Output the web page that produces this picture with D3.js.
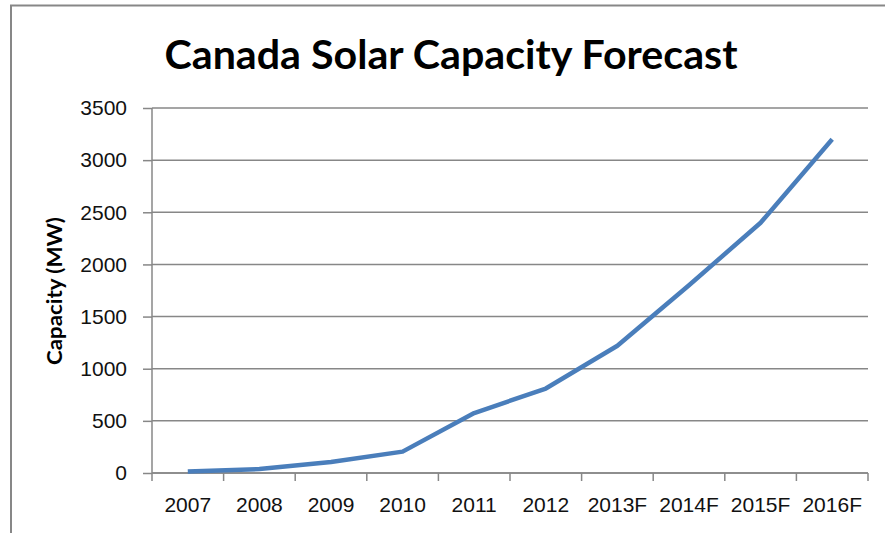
<!DOCTYPE html>
<html>
<head>
<meta charset="utf-8">
<script src="https://cdn.jsdelivr.net/npm/d3@7"></script>
<style>
  html, body { margin: 0; padding: 0; background: #fff; }
  svg { display: block; }
</style>
</head>
<body>
<svg id="chart" width="885" height="533"></svg>
<script>
// Installed solar capacity in Canada (MW), actuals and forecast years
const years = ["2007", "2008", "2009", "2010", "2011", "2012", "2013F", "2014F", "2015F", "2016F"];
const capacity = [15, 38, 105, 205, 575, 810, 1220, 1800, 2400, 3200];
const yTicks = [0, 500, 1000, 1500, 2000, 2500, 3000, 3500];

(function () {
  const svg = d3.select("#chart");
  const W = 885, H = 533;
  const plotLeft = 152, plotRight = 868, plotTop = 108, plotBottom = 473;
  const gray = "#878787";
  const tickFont = "'Liberation Sans', Arial, sans-serif";

  svg.append("rect").attr("width", W).attr("height", H).attr("fill", "#fff");

  // chart frame (left and top edges)
  svg.append("path")
    .attr("d", `M11,${H} V5.5 H${W}`)
    .attr("fill", "none").attr("stroke", gray).attr("stroke-width", 2);

  const x = d3.scaleBand().domain(years).range([plotLeft, plotRight]);
  const y = d3.scaleLinear().domain([0, 3500]).range([plotBottom, plotTop]);

  // horizontal gridlines
  svg.append("g").selectAll("line").data(yTicks).join("line")
    .attr("x1", plotLeft).attr("x2", plotRight)
    .attr("y1", d => y(d)).attr("y2", d => y(d))
    .attr("stroke", gray).attr("stroke-width", 1.5);

  // y axis
  const yAxis = svg.append("g").attr("transform", `translate(${plotLeft},0)`)
    .call(d3.axisLeft(y).tickValues(yTicks).tickSize(9).tickPadding(16).tickFormat(d3.format("d")));
  yAxis.select(".domain").attr("stroke", gray).attr("stroke-width", 1.5).attr("d", `M0,${plotBottom}V${plotTop}`);
  yAxis.selectAll(".tick line").attr("stroke", gray).attr("stroke-width", 1.5);
  yAxis.selectAll(".tick text")
    .attr("font-family", tickFont).attr("font-size", 21).attr("fill", "#111");

  // x axis with ticks on band boundaries
  const xAxis = svg.append("g").attr("transform", `translate(0,${plotBottom})`)
    .call(d3.axisBottom(x).tickSize(0).tickPadding(24));
  xAxis.select(".domain").attr("stroke", gray).attr("stroke-width", 1.5).attr("d", `M${plotLeft},0H${plotRight}`);
  xAxis.selectAll(".tick text")
    .attr("font-family", tickFont).attr("font-size", 21).attr("fill", "#111");
  const bounds = years.map(d => x(d)).concat([plotRight]);
  xAxis.append("g").selectAll("line").data(bounds).join("line")
    .attr("x1", d => d).attr("x2", d => d)
    .attr("y1", 0).attr("y2", 8)
    .attr("stroke", gray).attr("stroke-width", 1.5);

  // capacity line
  const line = d3.line()
    .x((d, i) => x(years[i]) + x.bandwidth() / 2)
    .y(d => y(d));
  svg.append("path")
    .datum(capacity)
    .attr("d", line)
    .attr("fill", "none")
    .attr("stroke", "#4a7ebb")
    .attr("stroke-width", 4.5)
    .attr("stroke-linejoin", "round");

  // title
  svg.append("text")
    .attr("x", 451).attr("y", 69)
    .attr("text-anchor", "middle")
    .attr("font-family", "Lato, 'Open Sans', sans-serif")
    .attr("font-weight", "bold")
    .attr("font-size", 40)
    .attr("textLength", 573).attr("lengthAdjust", "spacingAndGlyphs")
    .attr("fill", "#000")
    .text("Canada Solar Capacity Forecast");

  // y axis title
  svg.append("text")
    .attr("transform", "translate(62,291) rotate(-90)")
    .attr("text-anchor", "middle")
    .attr("font-family", "Lato, 'Open Sans', sans-serif")
    .attr("font-weight", "bold")
    .attr("font-size", 20)
    .attr("textLength", 148).attr("lengthAdjust", "spacingAndGlyphs")
    .attr("fill", "#000")
    .text("Capacity (MW)");
})();
</script>
</body>
</html>
